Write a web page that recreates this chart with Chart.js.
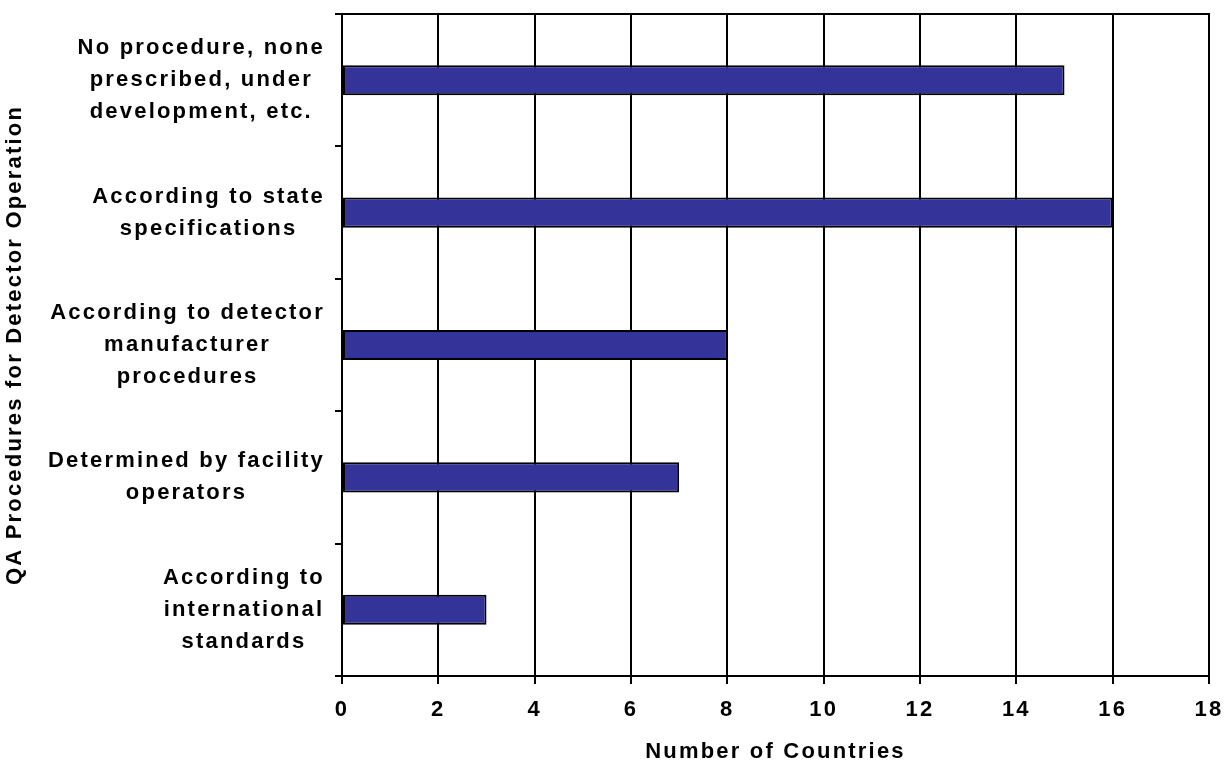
<!DOCTYPE html>
<html>
<head>
<meta charset="utf-8">
<script src="https://cdn.jsdelivr.net/npm/chart.js@4/dist/chart.umd.min.js"></script>
<style>
  html, body { margin: 0; padding: 0; background: #ffffff; }
  #chart { display: block; }
</style>
</head>
<body>
<canvas id="chart" width="1226" height="765"></canvas>
<script>
// Categories (each an array of label lines), top to bottom
const categories = [
  ['No procedure, none', 'prescribed, under', 'development, etc.'],
  ['According to state', 'specifications'],
  ['According to detector', 'manufacturer', 'procedures'],
  ['Determined by facility', 'operators'],
  ['According to', 'international', 'standards']
];
// Number of countries for each category
const countries = [15, 16, 8, 7, 3];
// Value axis range and tick step
const xMin = 0;
const xMax = 18;
const xStep = 2;

const FONT_FAMILY = '"Liberation Sans", Arial, sans-serif';
const FONT_SIZE = 22;
const SPACING = '2.2px';

// Wide letter spacing for every text drawn on the canvas
const spacingPlugin = {
  id: 'spacing',
  beforeUpdate(chart) { chart.ctx.letterSpacing = SPACING; },
  beforeDraw(chart) { chart.ctx.letterSpacing = SPACING; }
};

// Top frame line over the plot area
const framePlugin = {
  id: 'frame',
  afterDraw(chart) {
    const { ctx, chartArea } = chart;
    ctx.save();
    ctx.strokeStyle = '#000000';
    ctx.lineWidth = 2;
    ctx.beginPath();
    ctx.moveTo(chartArea.left, chartArea.top);
    ctx.lineTo(chartArea.right + 1, chartArea.top);
    ctx.stroke();
    ctx.restore();
  }
};

// Category labels: each block sits against the axis, its lines centred within the block
const categoryLabelPlugin = {
  id: 'categoryLabels',
  afterDraw(chart) {
    const { ctx } = chart;
    const yScale = chart.scales.y;
    const rightEdge = yScale.right - 18;
    const lineGap = 32;
    ctx.save();
    ctx.font = 'bold ' + FONT_SIZE + 'px ' + FONT_FAMILY;
    ctx.letterSpacing = SPACING;
    ctx.fillStyle = '#000000';
    ctx.textAlign = 'center';
    ctx.textBaseline = 'middle';
    categories.forEach((lines, i) => {
      const yc = yScale.getPixelForValue(i);
      const blockW = Math.max(...lines.map(l => ctx.measureText(l).width));
      const xc = rightEdge - blockW / 2 + 1;
      const y0 = yc - (lines.length - 1) * lineGap / 2;
      lines.forEach((line, k) => {
        ctx.fillText(line, xc, y0 + k * lineGap);
      });
    });
    ctx.restore();
  }
};

const axisFont = { family: FONT_FAMILY, size: FONT_SIZE, weight: 'bold' };

new Chart(document.getElementById('chart'), {
  type: 'bar',
  data: {
    labels: categories,
    datasets: [{
      data: countries,
      backgroundColor: '#333399',
      borderColor: '#000000',
      borderWidth: 2,
      borderSkipped: false,
      barPercentage: 0.227,
      categoryPercentage: 1
    }]
  },
  plugins: [spacingPlugin, framePlugin, categoryLabelPlugin],
  options: {
    indexAxis: 'y',
    responsive: false,
    animation: false,
    layout: { padding: { top: 14, right: 17, left: 0, bottom: 0 } },
    plugins: {
      legend: { display: false },
      tooltip: { enabled: false }
    },
    scales: {
      x: {
        min: xMin,
        max: xMax,
        ticks: {
          stepSize: xStep,
          color: '#000000',
          padding: 13,
          maxRotation: 0,
          font: axisFont
        },
        grid: {
          color: '#000000',
          lineWidth: 2,
          tickLength: 8,
          drawOnChartArea: true
        },
        border: { color: '#000000', width: 2 },
        title: {
          display: true,
          text: 'Number of Countries',
          color: '#000000',
          font: axisFont,
          padding: { top: 0, bottom: 0 }
        },
        afterFit(scale) {
          scale.height = 89;
          scale.paddingLeft = 0;
          scale.paddingRight = 0;
        }
      },
      y: {
        ticks: { display: false },
        grid: {
          offset: true,
          color: '#000000',
          lineWidth: 2,
          tickLength: 7,
          drawOnChartArea: false
        },
        border: { color: '#000000', width: 2 },
        title: {
          display: true,
          text: 'QA Procedures for Detector Operation',
          color: '#000000',
          font: axisFont,
          padding: { top: 2, bottom: 0 }
        },
        afterFit(scale) {
          scale.width = 342;
          scale.paddingTop = 0;
          scale.paddingBottom = 0;
        }
      }
    }
  }
});
</script>
</body>
</html>
